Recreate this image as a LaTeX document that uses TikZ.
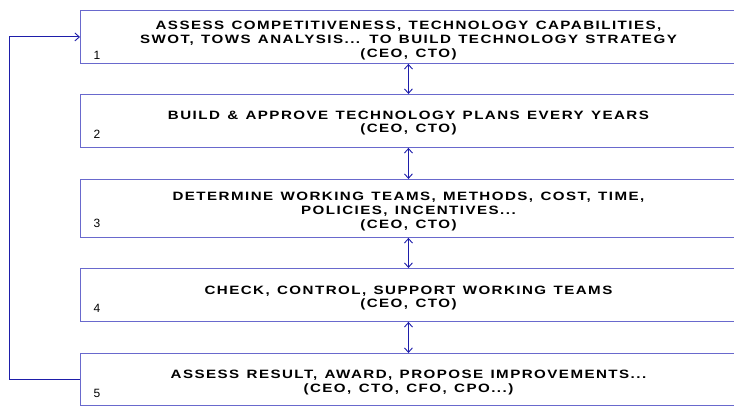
\documentclass[tikz,border=0pt]{standalone}
\usepackage{fontspec}
\setmainfont{Liberation Sans}
\newfontfamily\espace[FakeStretch=1.25, LetterSpace=12, WordSpace=1.3]{Liberation Sans}
\usepackage{tikz}
\usetikzlibrary{arrows.meta,positioning}
\definecolor{bleuTrait}{RGB}{105,105,205}
\definecolor{bleuFleche}{RGB}{30,30,170}

\begin{document}
\begin{tikzpicture}[x=1pt, y=-1pt,
  boite/.style={draw=bleuTrait, line width=0.9pt, anchor=north west,
                minimum width=656pt, inner sep=0pt},
  texte/.style={align=center, inner sep=0pt,
                font=\espace\fontsize{12.1}{13.7}\selectfont\bfseries},
  numero/.style={font=\fontsize{12}{14}\selectfont, inner sep=0pt},
  fleche/.style={{Straight Barb[length=4.5pt,width=8pt]}-{Straight Barb[length=4.5pt,width=8pt]},
                 line width=0.9pt, bleuFleche},
  retour/.style={-{Straight Barb[length=4.5pt,width=8pt]}, line width=0.9pt, bleuFleche}]

  \useasboundingbox (0,0) rectangle (734,406);

  \node[boite, minimum height=53pt] (b1) at (80,10) {};
  \node[boite, minimum height=53pt] (b2) at (80,94) {};
  \node[boite, minimum height=58pt] (b3) at (80,179) {};
  \node[boite, minimum height=53pt] (b4) at (80,268) {};
  \node[boite, minimum height=52pt] (b5) at (80,353) {};

  \node[texte] (t1) at ([yshift=-3.5pt]b1.center)
    {ASSESS COMPETITIVENESS, TECHNOLOGY CAPABILITIES,\\
     SWOT, TOWS ANALYSIS... TO BUILD TECHNOLOGY STRATEGY\\(CEO, CTO)};
  \node[texte] (t2) at ([yshift=-2pt]b2.center)
    {BUILD \& APPROVE TECHNOLOGY PLANS EVERY YEARS\\(CEO, CTO)};
  \node[texte] (t3) at ([yshift=-3pt]b3.center)
    {DETERMINE WORKING TEAMS, METHODS, COST, TIME,\\
     POLICIES, INCENTIVES...\\(CEO, CTO)};
  \node[texte] (t4) at ([yshift=-3pt]b4.center)
    {CHECK, CONTROL, SUPPORT WORKING TEAMS\\(CEO, CTO)};
  \node[texte] (t5) at ([yshift=-3pt]b5.center)
    {ASSESS RESULT, AWARD, PROPOSE IMPROVEMENTS...\\(CEO, CTO, CFO, CPO...)};

  \node[numero] (n1) at (97,55) {1};
  \node[numero] (n2) at (97,134) {2};
  \node[numero] (n3) at (97,223) {3};
  \node[numero] (n4) at (97,308) {4};
  \node[numero] (n5) at (97,393) {5};

  \draw[fleche] (b1.south) -- (b2.north);
  \draw[fleche] (b2.south) -- (b3.north);
  \draw[fleche] (b3.south) -- (b4.north);
  \draw[fleche] (b4.south) -- (b5.north);

  \draw[retour] (b5.west) -- ++(-71,0) |- (b1.west);
\end{tikzpicture}
\end{document}
